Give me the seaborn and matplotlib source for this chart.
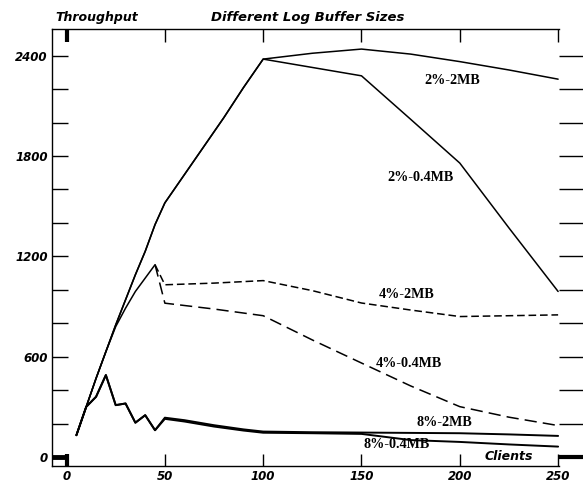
import numpy as np
import matplotlib
matplotlib.use("Agg")
import matplotlib.pyplot as plt
import seaborn as sns

# 2% series share the rising part, split at 100 clients
clients_2 = [5, 10, 15, 20, 25, 30, 35, 40, 45, 50, 60, 70, 80, 90, 100,
             125, 150, 175, 200, 225, 250]
thr_2_2mb = [130, 300, 470, 630, 790, 940, 1090, 1230, 1390, 1520, 1690, 1860,
             2030, 2210, 2380, 2415, 2440, 2410, 2365, 2315, 2260]
thr_2_04mb = [130, 300, 470, 630, 790, 940, 1090, 1230, 1390, 1520, 1690, 1860,
              2030, 2210, 2380, 2330, 2280, 2020, 1758, 1370, 990]

# 4% series: solid rise up to the peak, dashed afterwards
clients_4_rise = [5, 10, 15, 20, 25, 30, 35, 40, 45]
thr_4_rise = [130, 300, 470, 630, 780, 890, 990, 1070, 1150]
clients_4 = [45, 50, 75, 100, 125, 150, 175, 200, 225, 250]
thr_4_2mb = [1150, 1030, 1040, 1055, 995, 921, 879, 840, 845, 850]
thr_4_04mb = [1150, 920, 885, 845, 700, 562, 425, 301, 238, 188]

# 8% series
clients_8 = [5, 10, 15, 20, 25, 30, 35, 40, 45, 50, 60, 75, 90, 100,
             125, 150, 175, 200, 225, 250]
thr_8_2mb = [130, 300, 360, 490, 310, 320, 205, 250, 160, 235, 220, 190, 165, 152,
             148, 146, 144, 142, 135, 126]
thr_8_04mb = [130, 300, 360, 490, 310, 320, 205, 250, 160, 228, 212, 182, 158, 145,
              142, 138, 101, 90, 75, 62]

labels = ["2%-2MB", "2%-0.4MB", "4%-2MB", "4%-0.4MB", "8%-2MB", "8%-0.4MB"]
label_pos = [(196, 2255), (180, 1669), (173, 969), (174, 562), (192, 209), (168, 72)]

x_ticks = [0, 50, 100, 150, 200, 250]
y_major = [0, 600, 1200, 1800, 2400]
y_minor = list(range(0, 2600, 200))

sns.set_style("ticks")
plt.rcParams["font.family"] = ["DejaVu Sans"]
plt.rcParams.update({"text.color": "black", "axes.edgecolor": "black",
                     "xtick.color": "black", "ytick.color": "black",
                     "axes.labelcolor": "black"})

fig = plt.figure(figsize=(5.83, 4.82), dpi=100)
ax = fig.add_axes([0.0892, 0.0332, 0.959 - 0.0892, 0.9398 - 0.0332])

sns.lineplot(x=clients_2, y=thr_2_2mb, color="black", lw=1.1, sort=False, estimator=None, ax=ax)
sns.lineplot(x=clients_2, y=thr_2_04mb, color="black", lw=1.1, sort=False, estimator=None, ax=ax)
sns.lineplot(x=clients_4_rise, y=thr_4_rise, color="black", lw=1.1, sort=False, estimator=None, ax=ax)
sns.lineplot(x=clients_4, y=thr_4_2mb, color="black", lw=1.1, ls=(0, (5, 2.5)),
             sort=False, estimator=None, ax=ax)
sns.lineplot(x=clients_4, y=thr_4_04mb, color="black", lw=1.1, ls=(0, (8, 4)),
             sort=False, estimator=None, ax=ax)
sns.lineplot(x=clients_8, y=thr_8_2mb, color="black", lw=1.4, sort=False, estimator=None, ax=ax)
sns.lineplot(x=clients_8, y=thr_8_04mb, color="black", lw=1.4, sort=False, estimator=None, ax=ax)

for txt, (lx, ly) in zip(labels, label_pos):
    ax.text(lx, ly, txt, ha="center", va="center", fontsize=10.2,
            fontweight="bold", family="Liberation Serif")

ax.text(225, 0, "Clients", ha="center", va="center", fontsize=9,
        fontweight="bold", style="italic")

ax.set_xlim(-7.4, 250.5)
ax.set_ylim(-54, 2560)
ax.set_xticks(x_ticks)
ax.set_yticks(y_major)
ax.set_yticks(y_minor, minor=True)
ax.set_xlabel("")
ax.set_ylabel("")

tick_font = dict(fontsize=8.5, fontweight="bold", style="italic")
ax.set_xticklabels([str(v) for v in x_ticks], **tick_font)
ax.set_yticklabels([str(v) for v in y_major], **tick_font)

ax.tick_params(axis="x", which="both", direction="in", length=9, width=1,
               top=True, bottom=True, pad=3)
ax.tick_params(axis="y", which="both", direction="in", length=11.5, width=1,
               left=True, right=False, pad=3)
ax.spines["right"].set_visible(False)
for s in ["left", "top", "bottom"]:
    ax.spines[s].set_linewidth(1.0)

# right-hand ticks point outwards
sec = ax.secondary_yaxis("right")
sec.set_yticks(y_major)
sec.set_yticks(y_minor, minor=True)
sec.set_yticklabels([])
sec.tick_params(which="both", direction="out", length=17, width=1)
sec.spines["right"].set_visible(False)

# heavy marks at the origin
ax.yaxis.get_major_ticks()[0].tick1line.set_markeredgewidth(3.5)
ax.xaxis.get_major_ticks()[0].tick1line.set_markeredgewidth(3)
ax.xaxis.get_major_ticks()[0].tick2line.set_markeredgewidth(3)
sec.yaxis.get_major_ticks()[0].tick2line.set_markeredgewidth(3)

fig.text(308 / 583, 1 - 17 / 482, "Different Log Buffer Sizes", ha="center", va="center",
         fontsize=9.5, fontweight="bold", style="italic")
fig.text(97 / 583, 1 - 17 / 482, "Throughput", ha="center", va="center",
         fontsize=9, fontweight="bold", style="italic")

fig.savefig("out.png", dpi=100)
